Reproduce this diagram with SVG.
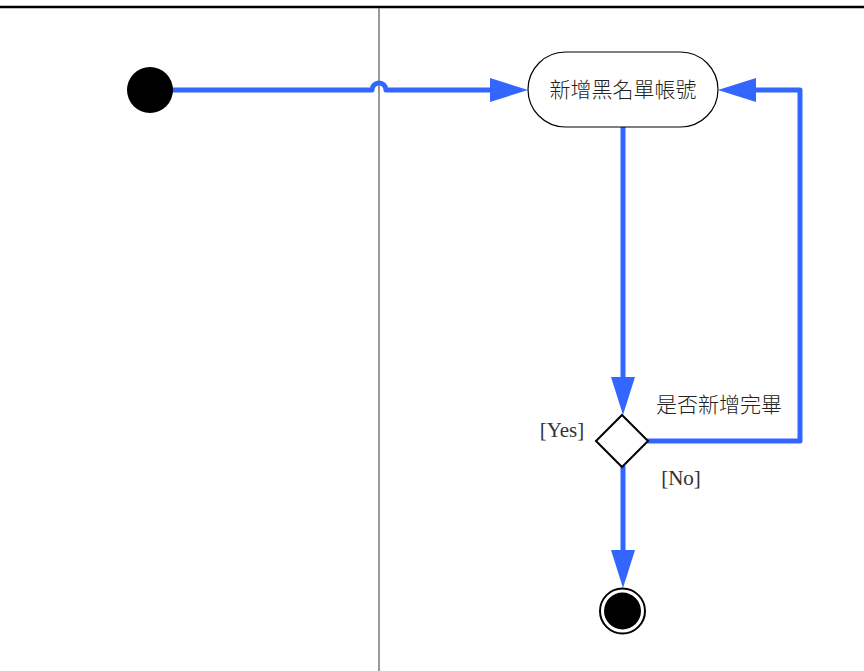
<svg xmlns="http://www.w3.org/2000/svg" width="864" height="671" viewBox="0 0 864 671">
<defs>
<style>
.flow{fill:none;stroke:#3366ff;stroke-width:5;stroke-linecap:round;stroke-linejoin:round}
.cjk{font-family:"Noto Sans CJK TC","Noto Sans CJK SC",sans-serif;font-size:21px;font-weight:300;fill:#222}
.lbl{font-family:"Liberation Serif",serif;font-size:21px;fill:#333}
</style>
<marker id="arr" viewBox="0 0 38 24" refX="0" refY="12" markerWidth="38" markerHeight="24" markerUnits="userSpaceOnUse" orient="auto">
<path d="M0,0 L38,12 L0,24 Z" fill="#3366ff"/>
</marker>
</defs>
<rect width="864" height="671" fill="#fff"/>
<g id="swimlane">
<line x1="0" y1="7" x2="864" y2="7" stroke="#000" stroke-width="2.5"/>
<line x1="379" y1="8" x2="379" y2="671" stroke="#777" stroke-width="1.5"/>
</g>
<g id="connectors">
<path class="flow" d="M172,90 L372,90 A7,7 0 0 1 386,90 L490,90" marker-end="url(#arr)"/>
<path class="flow" d="M623,127 L623,377" marker-end="url(#arr)"/>
<path class="flow" d="M648,441 L800,441 L800,90 L756,90" marker-end="url(#arr)"/>
<path class="flow" d="M623,467 L623,550" marker-end="url(#arr)"/>
</g>
<g id="start">
<circle cx="150" cy="90" r="23" fill="#000"/>
</g>
<g id="activity">
<rect x="528" y="52" width="190" height="75" rx="37.5" ry="37.5" fill="#fff" stroke="#000" stroke-width="1.2"/>
<text class="cjk" x="623" y="97" text-anchor="middle">新增黑名單帳號</text>
</g>
<g id="decision">
<polygon points="622,415 648,441 622,467 596,441" fill="#fff" stroke="#000" stroke-width="2"/>
<text class="cjk" x="719" y="412" text-anchor="middle">是否新增完畢</text>
<text class="lbl" x="562" y="437" text-anchor="middle">[Yes]</text>
<text class="lbl" x="681" y="485" text-anchor="middle">[No]</text>
</g>
<g id="end">
<circle cx="622.5" cy="611" r="22.5" fill="#fff" stroke="#000" stroke-width="2"/>
<circle cx="622.5" cy="611" r="18.5" fill="#000"/>
</g>
</svg>
